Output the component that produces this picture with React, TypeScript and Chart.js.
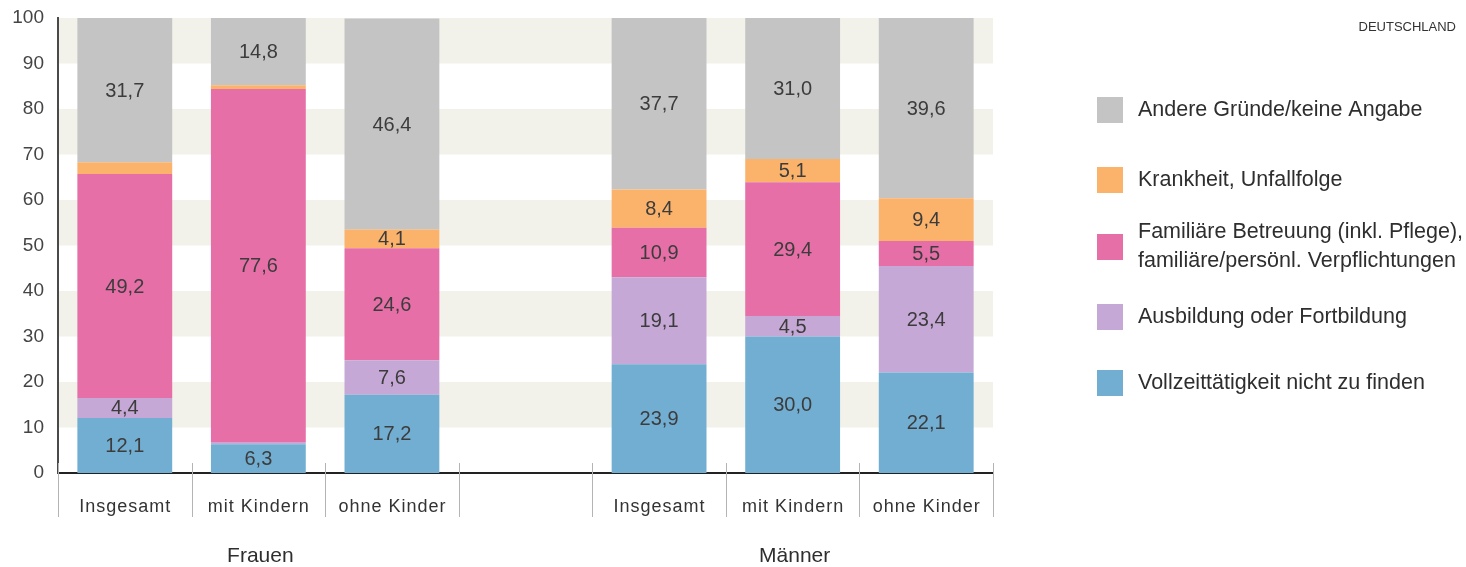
import React, { useEffect, useRef } from "react";
import { Chart, registerables } from "chart.js";

Chart.register(...registerables);

// ---- data ----
const categories = ["Insgesamt", "mit Kindern", "ohne Kinder", "", "Insgesamt", "mit Kindern", "ohne Kinder"];
const groupLabels = ["Frauen", "Männer"];
const groupCategoryIndex = [1, 5];

const vollzeit = [12.1, 6.3, 17.2, null, 23.9, 30.0, 22.1];
const ausbildung = [4.4, 0.5, 7.6, null, 19.1, 4.5, 23.4];
const familiaer = [49.2, 77.6, 24.6, null, 10.9, 29.4, 5.5];
const krankheit = [2.6, 0.8, 4.1, null, 8.4, 5.1, 9.4];
const andere = [31.7, 14.8, 46.4, null, 37.7, 31.0, 39.6];

const seriesNames = [
  "Vollzeittätigkeit nicht zu finden",
  "Ausbildung oder Fortbildung",
  "Familiäre Betreuung (inkl. Pflege),\nfamiliäre/persönl. Verpflichtungen",
  "Krankheit, Unfallfolge",
  "Andere Gründe/keine Angabe",
];
const seriesColors = ["#71aed2", "#c5a8d5", "#e56fa6", "#fbb36c", "#c4c4c4"];
const seriesValues = [vollzeit, ausbildung, familiaer, krankheit, andere];

const yMin = 0;
const yMax = 100;
const yStep = 10;
const labelThreshold = 3;

const fmt = (v: number) => v.toFixed(1).replace(".", ",");

const decorPlugin = {
  id: "decor",
  beforeDraw(chart: any) {
    const { ctx, chartArea } = chart;
    const y = chart.scales.y;
    ctx.save();
    ctx.fillStyle = "#f2f1ea";
    for (let v = yMin; v < yMax; v += yStep) {
      const idx = Math.round(v / yStep);
      if (idx % 2 === 1) {
        const top = y.getPixelForValue(v + yStep);
        const bot = y.getPixelForValue(v);
        ctx.fillRect(chartArea.left, top, chartArea.right - chartArea.left, bot - top);
      }
    }
    ctx.restore();
  },
  afterDraw(chart: any) {
    const { ctx, chartArea } = chart;
    const x = chart.scales.x;
    ctx.save();

    // separators between categories
    const n = categories.length;
    const w = (chartArea.right - chartArea.left) / n;
    ctx.strokeStyle = "#b4b4b4";
    ctx.lineWidth = 1;
    for (let i = 0; i <= n; i++) {
      const px = Math.round(chartArea.left + i * w) + 0.5;
      ctx.beginPath();
      ctx.moveTo(px, chartArea.bottom - 10);
      ctx.lineTo(px, chartArea.bottom + 44);
      ctx.stroke();
    }

    // category labels
    ctx.fillStyle = "#333";
    ctx.textAlign = "center";
    ctx.textBaseline = "middle";
    ctx.font = '18px "Liberation Sans", Arial, sans-serif';
    (ctx as any).letterSpacing = "1px";
    categories.forEach((c, i) => {
      if (!c) return;
      ctx.fillText(c, x.getPixelForTick(i) + 0.5, chartArea.bottom + 34);
    });
    (ctx as any).letterSpacing = "0px";

    // group labels
    ctx.font = '21px "Liberation Sans", Arial, sans-serif';
    ctx.fillStyle = "#2e2e2e";
    groupLabels.forEach((g, i) => {
      ctx.fillText(g, x.getPixelForTick(groupCategoryIndex[i]) + 2, chartArea.bottom + 83);
    });

    // value labels
    ctx.font = '20px "Liberation Sans", Arial, sans-serif';
    ctx.fillStyle = "#3c3c3c";
    chart.data.datasets.forEach((ds: any, di: number) => {
      const meta = chart.getDatasetMeta(di);
      meta.data.forEach((el: any, j: number) => {
        const v = ds.data[j];
        if (v == null || v < labelThreshold) return;
        ctx.fillText(fmt(v), el.x, (el.y + el.base) / 2 + 1);
      });
    });

    // legend
    const legendX = 1097;
    const textX = 1138;
    const sq = 26;
    const legendRows = [110, 180, 247, 317, 383];
    ctx.textAlign = "left";
    ctx.font = '21.5px "Liberation Sans", Arial, sans-serif';
    for (let k = 0; k < seriesNames.length; k++) {
      const si = seriesNames.length - 1 - k;
      const cy = legendRows[k];
      ctx.fillStyle = seriesColors[si];
      ctx.fillRect(legendX, cy - sq / 2, sq, sq);
      ctx.fillStyle = "#2e2e2e";
      const lines = seriesNames[si].split("\n");
      const lh = 29;
      lines.forEach((ln, li) => {
        ctx.fillText(ln, textX, cy + (li - (lines.length - 1) / 2) * lh);
      });
    }

    // brand text
    ctx.textAlign = "right";
    ctx.font = '13px "Liberation Sans", Arial, sans-serif';
    ctx.fillStyle = "#333";
    ctx.fillText("DEUTSCHLAND", 1456, 27);

    ctx.restore();
  },
};

export default function App() {
  const ref = useRef<HTMLCanvasElement | null>(null);
  useEffect(() => {
    if (!ref.current) return;
    const chart = new Chart(ref.current, {
      type: "bar",
      data: {
        labels: categories,
        datasets: seriesValues.map((vals, i) => ({
          label: seriesNames[i],
          data: vals as any,
          backgroundColor: seriesColors[i],
          borderWidth: 0,
          barPercentage: 0.71,
          categoryPercentage: 1,
        })),
      },
      options: {
        responsive: false,
        animation: false,
        devicePixelRatio: 1,
        layout: { padding: { left: 0, top: 18, right: 473, bottom: 0 } },
        plugins: {
          legend: { display: false },
          tooltip: { enabled: false },
          title: { display: false },
        },
        scales: {
          x: {
            stacked: true,
            grid: { display: false, drawTicks: false },
            border: { display: true, color: "#222", width: 2 },
            ticks: { display: false },
            afterFit: (s: any) => {
              s.height = 94;
              s.paddingLeft = 0;
              s.paddingRight = 0;
            },
          },
          y: {
            stacked: true,
            min: yMin,
            max: yMax,
            grid: { display: false, drawTicks: false },
            border: { display: true, color: "#4a4a4a", width: 2 },
            ticks: {
              stepSize: yStep,
              padding: 14,
              color: "#444",
              font: { family: '"Liberation Sans", Arial, sans-serif', size: 19 },
            },
            afterFit: (s: any) => {
              s.width = 58;
              s.paddingTop = 0;
              s.paddingBottom = 0;
            },
          },
        },
      },
      plugins: [decorPlugin],
    });
    return () => chart.destroy();
  }, []);
  return (
    <div style={{ position: "fixed", left: 0, top: 0, width: 1466, height: 567, background: "#fff" }}>
      <canvas ref={ref} width={1466} height={567} style={{ display: "block" }} />
    </div>
  );
}
